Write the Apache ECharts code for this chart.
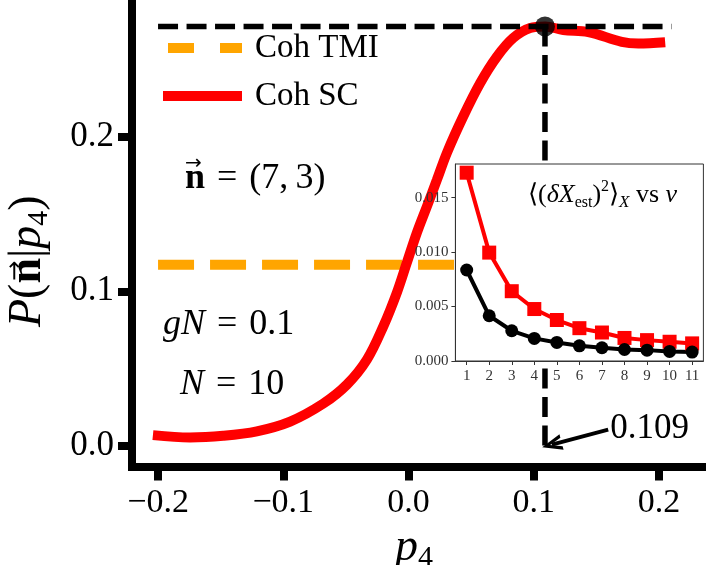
<!DOCTYPE html>
<html>
<head>
<meta charset="utf-8">
<script src="https://cdn.jsdelivr.net/npm/echarts@6/dist/echarts.min.js"></script>
<style>
  html, body { margin: 0; padding: 0; background: #fff; }
  #main { width: 706px; height: 565px; }
</style>
</head>
<body>
<div id="main"></div>
<script>
// main curve (Coh SC)
var p4 = [-0.2041, -0.1744, -0.1480, -0.1211, -0.0945, -0.0681, -0.0492, -0.0332, -0.0201,
  -0.0093, -0.0013, 0.0067, 0.0147, 0.0227, 0.0307, 0.0437, 0.0573, 0.0706, 0.0836,
  0.0972, 0.1092, 0.1236, 0.1436, 0.1703, 0.1835, 0.2050];
var probSC = [0.0069, 0.0054, 0.0065, 0.0094, 0.0157, 0.0273, 0.0396, 0.0558, 0.0773,
  0.0991, 0.1185, 0.1379, 0.1549, 0.1721, 0.1896, 0.2131, 0.2348, 0.2518, 0.2639,
  0.2704, 0.2714, 0.2691, 0.2678, 0.2614, 0.2603, 0.2612];
// Coh TMI is flat
var tmiRange = [-0.2, 0.2];
var probTMI = 0.1172;
// optimum marker and guide lines
var peakX = 0.109, peakY = 0.2714;
var guideRange = [-0.2, 0.21];
var arrowFrom = [0.1595, 0.0105], arrowTo = [0.1145, 0.0008];
var xTicks = [-0.2, -0.1, 0.0, 0.1, 0.2];
var yTicks = [0.0, 0.1, 0.2];

// inset
var nu = [1, 2, 3, 4, 5, 6, 7, 8, 9, 10, 11];
var insetRed = [0.0173, 0.00995, 0.0064, 0.00476, 0.00375, 0.0030, 0.0026, 0.0021, 0.0019, 0.00175, 0.0016];
var insetBlack = [0.00835, 0.00414, 0.00276, 0.00206, 0.00169, 0.00138, 0.0012, 0.00104, 0.00098, 0.00086, 0.0008];
var insetYTicks = [0.0, 0.005, 0.010, 0.015];

var FONT = 'Liberation Serif';
var SP = '\u2004';  // wider math spacing round "="

function pairs(xs, ys) {
  return xs.map(function (x, i) { return [x, ys[i]]; });
}

// width of a string in a css font, used to sit the vector arrow over the n
var measureCtx = document.createElement('canvas').getContext('2d');
function textWidth(str, font) {
  measureCtx.font = font;
  return measureCtx.measureText(str).width;
}

setTimeout(function () {
  var myChart = echarts.init(document.getElementById('main'));

  var rich36 = {
    i: { fontFamily: FONT, fontSize: 36, fontStyle: 'italic', color: '#000', lineHeight: 40 },
    r: { fontFamily: FONT, fontSize: 36, color: '#000', lineHeight: 40 }
  };

  // y axis label P(n|p4) with the vector arrow drawn as its own glyph
  var yl = 46;
  var nLeft = textWidth('P', 'italic ' + yl + 'px "' + FONT + '"') + textWidth('(', yl + 'px "' + FONT + '"');
  var nW = textWidth('n', 'bold ' + yl + 'px "' + FONT + '"');
  var arW = textWidth('→', '24px "DejaVu Sans"');
  var yLabel = {
    type: 'group', x: 2, y: 327, rotation: Math.PI / 2, z: 10,
    children: [
      {
        type: 'text', x: 0, y: 0,
        style: {
          text: '{i|P}{r|(}{b|n}{r||}{i|p}{s|4}{r|)}',
          rich: {
            i: { fontFamily: FONT, fontSize: yl, fontStyle: 'italic', fill: '#000', lineHeight: 52 },
            r: { fontFamily: FONT, fontSize: yl, fill: '#000', lineHeight: 52 },
            b: { fontFamily: FONT, fontSize: yl, fontWeight: 'bold', fill: '#000', lineHeight: 52 },
            s: { fontFamily: FONT, fontSize: 30, fill: '#000', lineHeight: 30, verticalAlign: 'bottom' }
          }
        }
      },
      {
        type: 'text', x: nLeft + nW / 2 - arW / 2, y: 2,
        style: { text: '→', font: '24px "DejaVu Sans"', fill: '#000' }
      }
    ]
  };

  var nW34 = textWidth('n', 'bold 36px "' + FONT + '"');
  var nVec = {
    type: 'group', left: 185, top: 154, z: 10,
    children: [
      { type: 'text', x: nW34 / 2 - 10, y: 0, style: { text: '→', font: '20px "DejaVu Sans"', fill: '#000' } },
      { type: 'text', x: 0, y: 7, style: { text: 'n', font: 'bold 36px "' + FONT + '"', fill: '#000' } },
      { type: 'text', x: nW34, y: 7, style: { text: SP + '=' + SP + '(7,\u20093)', font: '36px "' + FONT + '"', fill: '#000' } }
    ]
  };

  var option = {
    animation: false,
    backgroundColor: '#fff',
    title: {
      left: 523, top: 174, z: 10,
      text: '{r|⟨(}{i|δX}{s|est}{r|)}{p|2}{r|⟩}{s2|X}{r| vs }{i|ν}',
      textStyle: {
        fontWeight: 'normal',
        rich: {
          r: { fontFamily: FONT, fontSize: 26, fontWeight: 'normal', color: '#000', lineHeight: 32 },
          i: { fontFamily: FONT, fontSize: 26, fontWeight: 'normal', fontStyle: 'italic', color: '#000', lineHeight: 32 },
          s: { fontFamily: FONT, fontSize: 16, fontWeight: 'normal', color: '#000', lineHeight: 17, verticalAlign: 'bottom' },
          s2: { fontFamily: FONT, fontSize: 17, fontWeight: 'normal', fontStyle: 'italic', color: '#000', lineHeight: 17, verticalAlign: 'bottom' },
          p: { fontFamily: FONT, fontSize: 16, fontWeight: 'normal', color: '#000', lineHeight: 17, verticalAlign: 'top' }
        }
      }
    },
    legend: {
      orient: 'vertical',
      left: 158, top: 29,
      padding: 0,
      itemWidth: 79, itemHeight: 10, itemGap: 10,
      selectedMode: false,
      itemStyle: { opacity: 0 },
      lineStyle: { width: 10 },
      textStyle: { fontFamily: FONT, fontSize: 33, color: '#000', lineHeight: 38, padding: [0, 0, 0, 8] },
      data: [
        { name: 'Coh TMI', lineStyle: { width: 10, type: [26, 26], dashOffset: 47 } },
        { name: 'Coh SC' }
      ]
    },
    grid: [
      { left: 132, top: 0, right: 0, bottom: 98.5, outerBoundsMode: 'none' },
      { left: 455.4, top: 164, width: 248, height: 197, show: true, backgroundColor: '#fff',
        borderColor: '#333', borderWidth: 1, z: 5, outerBoundsMode: 'none' }
    ],
    xAxis: [
      {
        gridIndex: 0, type: 'value', min: -0.2208, max: 0.2376,
        axisLine: { show: true, onZero: false, lineStyle: { color: '#000', width: 8, cap: 'square' } },
        axisTick: { show: true, length: 14, customValues: xTicks, lineStyle: { color: '#000', width: 8 } },
        axisLabel: {
          customValues: xTicks, margin: 20, fontFamily: FONT, fontSize: 34, color: '#000',
          formatter: function (v) { return v.toFixed(1).replace('-', '−'); }
        },
        splitLine: { show: false },
        name: '{i|p}{s|4}',
        nameLocation: 'middle', nameGap: 48,
        nameTextStyle: {
          padding: [0, 10, 0, 0],
          rich: {
            i: { fontFamily: FONT, fontSize: 46, fontStyle: 'italic', color: '#000', lineHeight: 50 },
            s: { fontFamily: FONT, fontSize: 30, color: '#000', lineHeight: 30, verticalAlign: 'bottom' }
          }
        }
      },
      {
        gridIndex: 1, type: 'value', min: 0.5, max: 11.5, z: 6,
        axisLine: { show: true, onZero: false, lineStyle: { color: '#333', width: 1 } },
        axisTick: { show: true, length: 4, customValues: nu, lineStyle: { color: '#333', width: 1 } },
        axisLabel: { customValues: nu, margin: 8, fontFamily: FONT, fontSize: 15, color: '#333' },
        splitLine: { show: false }
      }
    ],
    yAxis: [
      {
        gridIndex: 0, type: 'value', min: -0.0134, max: 0.2885,
        axisLine: { show: true, onZero: false, lineStyle: { color: '#000', width: 8, cap: 'square' } },
        axisTick: { show: true, length: 14, customValues: yTicks, lineStyle: { color: '#000', width: 8 } },
        axisLabel: {
          customValues: yTicks, margin: 18, fontFamily: FONT, fontSize: 35, color: '#000',
          formatter: function (v) { return v.toFixed(1); }
        },
        splitLine: { show: false }
      },
      {
        gridIndex: 1, type: 'value', min: -0.00002, max: 0.0181, z: 6,
        axisLine: { show: true, onZero: false, lineStyle: { color: '#333', width: 1 } },
        axisTick: { show: true, length: 4, customValues: insetYTicks, lineStyle: { color: '#333', width: 1 } },
        axisLabel: {
          customValues: insetYTicks, margin: 7, fontFamily: FONT, fontSize: 15, color: '#333',
          formatter: function (v) { return v.toFixed(3); }
        },
        splitLine: { show: false }
      }
    ],
    graphic: [
      yLabel,
      nVec,
      { type: 'text', left: 163, top: 307, z: 10, style: { text: '{i|gN}{r|' + SP + '=' + SP + '0.1}', rich: rich36 } },
      { type: 'text', left: 180, top: 367, z: 10, style: { text: '{i|N}{r|' + SP + '=' + SP + '10}', rich: rich36 } }
    ],
    series: [
      {
        name: 'Coh TMI', type: 'line', xAxisIndex: 0, yAxisIndex: 0, z: 2,
        symbol: 'none', silent: true,
        lineStyle: { color: '#FFA500', width: 10, type: [36, 16], cap: 'butt' },
        itemStyle: { color: '#FFA500' },
        data: tmiRange.map(function (x) { return [x, probTMI]; })
      },
      {
        name: 'Coh SC', type: 'line', xAxisIndex: 0, yAxisIndex: 0, z: 3,
        symbol: 'none', smooth: 0.35, silent: true,
        lineStyle: { color: '#FF0000', width: 10, cap: 'butt' },
        itemStyle: { color: '#FF0000' },
        data: pairs(p4, probSC)
      },
      {
        type: 'line', xAxisIndex: 0, yAxisIndex: 0, z: 4,
        symbol: 'none', silent: true,
        lineStyle: { color: '#000', width: 5.5, type: [20, 8.5] },
        data: guideRange.map(function (x) { return [x, peakY]; })
      },
      {
        type: 'line', xAxisIndex: 0, yAxisIndex: 0, z: 4,
        symbol: 'none', silent: true,
        lineStyle: { color: '#000', width: 5.5, type: [20, 8.5] },
        data: [[peakX, peakY], [peakX, 0]],
        markLine: {
          silent: true, animation: false,
          symbol: ['none', 'path://M10,0 L20,22 L15.5,22 L10,9 L4.5,22 L0,22 Z'],
          symbolSize: [16, 20],
          lineStyle: { color: '#000', width: 4, type: 'solid' },
          label: {
            show: true, position: 'start', distance: 2,
            formatter: String(peakX),
            fontFamily: FONT, fontSize: 35, color: '#000',
            padding: [0, 0, 18, 0]
          },
          data: [[{ coord: arrowFrom }, { coord: arrowTo }]]
        }
      },
      {
        type: 'scatter', xAxisIndex: 0, yAxisIndex: 0, z: 5,
        symbol: 'circle', symbolSize: 20, silent: true,
        itemStyle: { color: '#000' },
        data: [[peakX, peakY]]
      },
      {
        type: 'line', xAxisIndex: 1, yAxisIndex: 1, z: 7,
        symbol: 'rect', symbolSize: 14, silent: true,
        lineStyle: { color: '#FF0000', width: 4 },
        itemStyle: { color: '#FF0000' },
        data: pairs(nu, insetRed)
      },
      {
        type: 'line', xAxisIndex: 1, yAxisIndex: 1, z: 7,
        symbol: 'circle', symbolSize: 13, silent: true,
        lineStyle: { color: '#000', width: 4 },
        itemStyle: { color: '#000' },
        data: pairs(nu, insetBlack)
      }
    ]
  };

  myChart.setOption(option);
}, 50);
</script>
</body>
</html>
